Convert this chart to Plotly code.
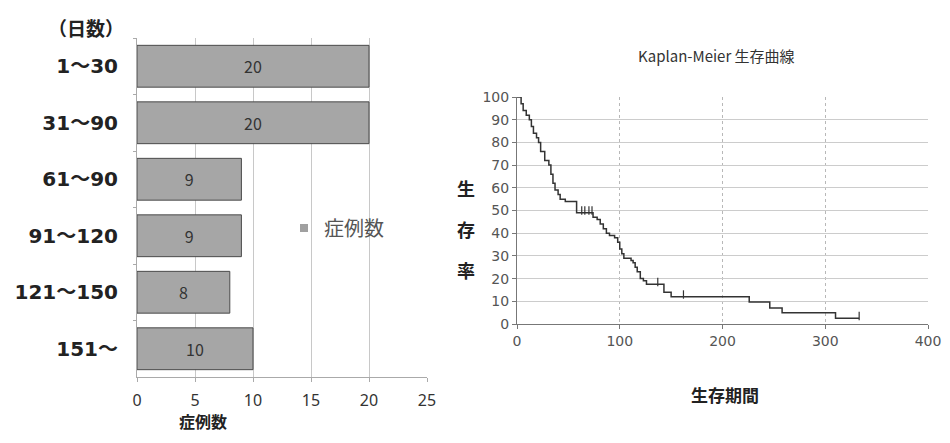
import plotly.graph_objects as go

# ---- Left chart data ----
categories = ["1～30", "31～90", "61～90", "91～120", "121～150", "151～"]
cases = [20, 20, 9, 9, 8, 10]
bar_ticks = [0, 5, 10, 15, 20, 25]

# ---- Right chart data (Kaplan-Meier steps) ----
km_time = [0, 4, 6, 9, 12, 14, 16, 19, 21, 23, 27, 31, 33, 35, 37, 40, 42, 47, 58,
           74, 78, 81, 84, 87, 90, 95, 98, 100, 102, 104, 111, 113, 115, 117, 120,
           123, 126, 143, 150, 226, 246, 258, 310, 333]
km_surv = [100, 97, 94, 92, 90, 87, 84, 82, 80, 76, 72, 70, 66, 62, 59, 57, 55, 54, 49,
           47, 46, 44, 42, 40, 39, 38, 36, 33, 31, 29, 28, 27, 25, 23, 20,
           19, 17.5, 14, 12, 9.7, 7, 5, 2.5, 2.5]
censor_time = [63, 66, 70, 73, 137, 162, 333]
censor_surv = [49, 49, 49, 49, 17.5, 12, 2.5]
km_xticks = [0, 100, 200, 300, 400]
km_yticks = list(range(0, 101, 10))

FONT = "Noto Sans CJK JP, Noto Sans, sans-serif"
BOLDNUM = "DejaVu Sans, Noto Sans CJK JP, sans-serif"
# page body has an 8px margin; figure sized so page is exactly 950x443
OFF = 8
W, H = 950 - 2 * OFF, 443 - 2 * OFF

def px_x(p):
    return (p - OFF) / W

def px_y(p):
    return 1 - (p - OFF) / H

fig = go.Figure()

fig.add_trace(go.Bar(
    y=categories, x=cases, orientation="h", name="症例数",
    marker=dict(color="#a6a6a6", line=dict(color="#4a4a4a", width=1)),
    text=[str(v) for v in cases], textposition="inside", insidetextanchor="middle",
    textfont=dict(size=16, color="#333", family=FONT),
    xaxis="x", yaxis="y", showlegend=False,
))
# legend entry for the bar series
fig.add_trace(go.Scatter(
    x=[None], y=[None], mode="markers", name="症例数",
    marker=dict(symbol="square", size=8, color="#a0a0a0"),
    xaxis="x", yaxis="y", showlegend=True,
))

fig.add_trace(go.Scatter(
    x=km_time, y=km_surv, mode="lines", line=dict(color="#333", width=1.5, shape="hv"),
    xaxis="x2", yaxis="y2", showlegend=False,
))
fig.add_trace(go.Scatter(
    x=censor_time, y=[s + 1 for s in censor_surv], mode="markers",
    marker=dict(symbol="line-ns", size=6, line=dict(color="#333", width=1.2)),
    xaxis="x2", yaxis="y2", showlegend=False,
))

fig.update_layout(
    width=W, height=H, margin=dict(l=0, r=0, t=0, b=0, autoexpand=False),
    paper_bgcolor="white", plot_bgcolor="white",
    font=dict(family=FONT),
    bargap=0.26,
    xaxis=dict(domain=[px_x(137), px_x(427)], range=[0, 25], tickvals=bar_ticks,
               showgrid=True, gridcolor="#c8c8c8", gridwidth=1,
               showline=True, linecolor="#aaa", ticks="outside", ticklen=4, tickcolor="#aaa",
               ticklabelstandoff=5,
               tickfont=dict(size=16, color="#333", family="Noto Sans, sans-serif"),
               zeroline=False, anchor="y"),
    yaxis=dict(domain=[px_y(377), px_y(38)], autorange="reversed",
               showline=True, linecolor="#aaa", ticks="outside", ticklen=3, tickcolor="#aaa",
               tickson="boundaries", ticklabelstandoff=14,
               tickfont=dict(size=20, color="#222", family=BOLDNUM, weight="bold"),
               showgrid=False, anchor="x"),
    xaxis2=dict(domain=[px_x(517), px_x(928)], range=[0, 400], tickvals=km_xticks,
                showgrid=True, gridcolor="#b8b8b8", griddash="dot", gridwidth=1,
                showline=True, linecolor="#777", ticks="outside", ticklen=4, tickcolor="#777",
                tickfont=dict(size=14, color="#555", family="DejaVu Sans, sans-serif"),
                ticklabeloverflow="allow", zeroline=False, anchor="y2"),
    yaxis2=dict(domain=[px_y(324), px_y(97)], range=[0, 100], tickvals=km_yticks,
                showgrid=True, gridcolor="#cccccc", gridwidth=1,
                showline=True, linecolor="#777", ticks="outside", ticklen=4, tickcolor="#777",
                tickfont=dict(size=14, color="#555", family="DejaVu Sans, sans-serif"),
                zeroline=False, anchor="x2"),
    legend=dict(x=px_x(284), y=px_y(228), xanchor="left", yanchor="middle",
                font=dict(size=20, color="#555", family=FONT), bgcolor="rgba(0,0,0,0)",
                itemwidth=30),
)

def note(text, x, y, size, color, bold):
    f = dict(size=size, color=color, family=FONT)
    if bold:
        f["weight"] = "bold"
    return dict(text=text, x=px_x(x), y=px_y(y), xref="paper", yref="paper",
                xanchor="center", yanchor="middle", showarrow=False, font=f)

annotations = [
    note("（日数）", 86, 27, 19, "#222", True),
    note("症例数", 203, 421, 16, "#222", True),
    note("Kaplan-Meier 生存曲線", 716, 55, 15, "#333", False),
    note("生存期間", 725, 394, 17, "#222", True),
]
for ch, yy in zip("生存率", [188, 229, 270]):
    annotations.append(note(ch, 466, yy, 18, "#222", True))
fig.update_layout(annotations=annotations)

fig.write_html("out.html")
